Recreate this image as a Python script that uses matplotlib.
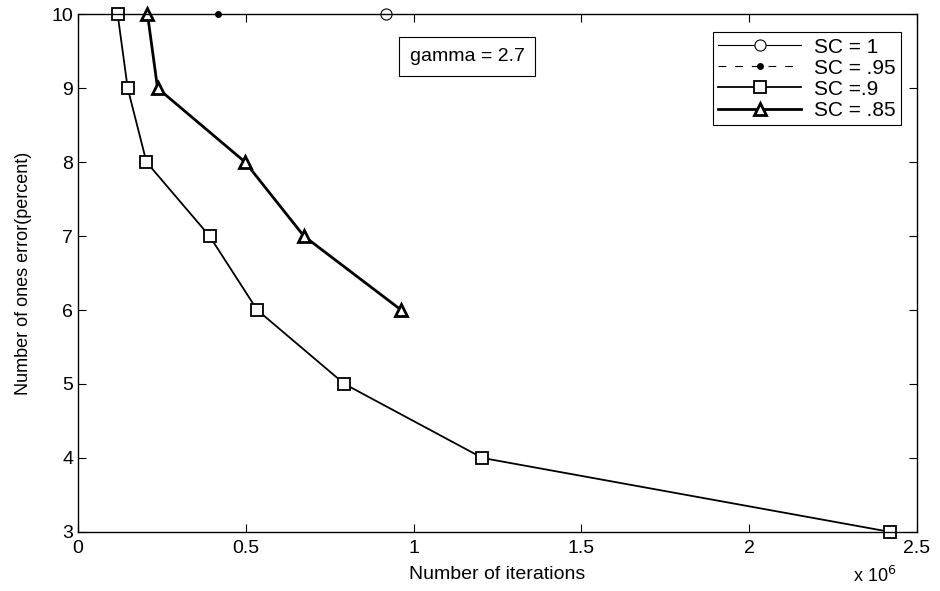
import numpy as np
import matplotlib.pyplot as plt

plt.rcParams['font.family'] = ['Liberation Sans', 'DejaVu Sans']

# data (iterations in units of 1e6)
sc1_x = [0.918]
sc1_y = [10]
sc95_x = [0.418]
sc95_y = [10]
sc9_x = [0.118, 0.148, 0.204, 0.392, 0.534, 0.794, 1.205, 2.42]
sc9_y = [10, 9, 8, 7, 6, 5, 4, 3]
sc85_x = [0.207, 0.237, 0.498, 0.673, 0.963]
sc85_y = [10, 9, 8, 7, 6]

xticks = [0, 0.5, 1, 1.5, 2, 2.5]
xticklabels = ['0', '0.5', '1', '1.5', '2', '2.5']
yticks = [3, 4, 5, 6, 7, 8, 9, 10]

fig = plt.figure(figsize=(9.4, 5.91), dpi=100)
ax = fig.add_axes([0.083, 0.1, 0.8925, 0.876])

ax.plot(sc1_x, sc1_y, '-', color='k', lw=0.8, marker='o', mfc='white', ms=8,
        mew=0.8, label='SC = 1', clip_on=False)
ax.plot(sc95_x, sc95_y, '--', color='k', lw=0.8, marker='.', ms=8,
        dashes=(7, 8), label='SC = .95', clip_on=False)
ax.plot(sc9_x, sc9_y, '-', color='k', lw=1.3, marker='s', mfc='white', ms=8,
        mew=1.3, label='SC =.9', clip_on=False)
ax.plot(sc85_x, sc85_y, '-', color='k', lw=2, marker='^', mfc='white', ms=8,
        mew=2, label='SC = .85', clip_on=False)

ax.set_xlim(0, 2.5)
ax.set_ylim(3, 10)
ax.set_xticks(xticks)
ax.set_xticklabels(xticklabels)
ax.set_yticks(yticks)
ax.tick_params(direction='in', top=True, right=True, labelsize=14, length=6)
ax.tick_params(axis='x', pad=6)
for s in ax.spines.values():
    s.set_linewidth(1)

ax.set_xlabel('Number of iterations', fontsize=14, labelpad=6)
ax.set_ylabel('Number of ones error(percent)', fontsize=13, labelpad=14)
ax.text(0.975, -0.085, 'x 10$^6$', transform=ax.transAxes, fontsize=13,
        ha='right', va='center')

ax.text(1.16, 9.43, 'gamma = 2.7', fontsize=14, ha='center', va='center',
        bbox=dict(boxstyle='square,pad=0.55', fc='white', ec='k', lw=0.8))

leg = ax.legend(loc='upper right', fontsize=15, fancybox=False, framealpha=1,
                edgecolor='k', handlelength=4.0, borderpad=0.25,
                labelspacing=0.1, handletextpad=0.6,
                bbox_to_anchor=(0.993, 0.985))
leg.get_frame().set_linewidth(0.8)

plt.savefig('out.png', dpi=100)
